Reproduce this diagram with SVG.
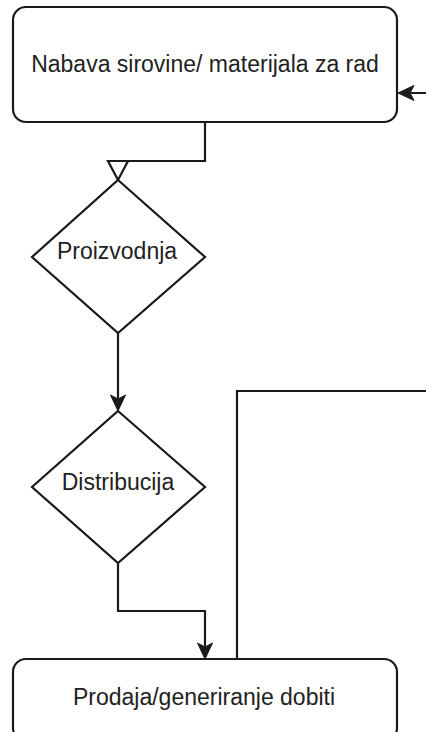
<svg xmlns="http://www.w3.org/2000/svg" width="426" height="732" viewBox="0 0 426 732">
  <style>
    .shape { fill: #ffffff; stroke: #1a1a1a; stroke-width: 2.2; }
    .edge { fill: none; stroke: #1a1a1a; stroke-width: 2.2; stroke-linecap: butt; stroke-linejoin: miter; }
    .label { font-family: "Liberation Sans", Arial, sans-serif; font-size: 23px; fill: #222222; text-anchor: middle; }
  </style>
  <defs>
    <marker id="classic" markerUnits="userSpaceOnUse" viewBox="-10 -9 20 18" markerWidth="20" markerHeight="18" refX="0" refY="0" orient="auto">
      <path d="M8,0 L-8,-7.5 L-4,0 L-8,7.5 Z" fill="#1a1a1a" stroke="#1a1a1a" stroke-width="1" stroke-linejoin="miter"/>
    </marker>
    <marker id="openTri" markerUnits="userSpaceOnUse" viewBox="-22 -12 24 24" markerWidth="24" markerHeight="24" refX="0" refY="0" orient="auto">
      <path d="M0,0 L-19,-10 L-19,10 Z" fill="#ffffff" stroke="#1a1a1a" stroke-width="2.2" stroke-linejoin="miter"/>
    </marker>
  </defs>

  <g id="connectors">
    <path class="edge" d="M205,122 V161 H118 V180" marker-end="url(#openTri)"/>
    <path class="edge" d="M118,333 V403" marker-end="url(#classic)"/>
    <path class="edge" d="M118,563 V611 H205 V651" marker-end="url(#classic)"/>
    <path class="edge" d="M237,659 V391 H445 V93 H406" marker-end="url(#classic)"/>
  </g>

  <g id="node-nabava">
    <rect class="shape" x="13" y="7" width="384" height="115" rx="13" ry="13"/>
    <text class="label" x="205" y="72">Nabava sirovine/ materijala za rad</text>
  </g>

  <g id="node-proizvodnja">
    <polygon class="shape" points="118,180 205,257 118,333 32,257"/>
    <text class="label" x="117" y="259">Proizvodnja</text>
  </g>

  <g id="node-distribucija">
    <polygon class="shape" points="118,411 205,487 118,563 32,487"/>
    <text class="label" x="118" y="490">Distribucija</text>
  </g>

  <g id="node-prodaja">
    <rect class="shape" x="13" y="659" width="384" height="82" rx="13" ry="13"/>
    <text class="label" x="204" y="705">Prodaja/generiranje dobiti</text>
  </g>
</svg>
